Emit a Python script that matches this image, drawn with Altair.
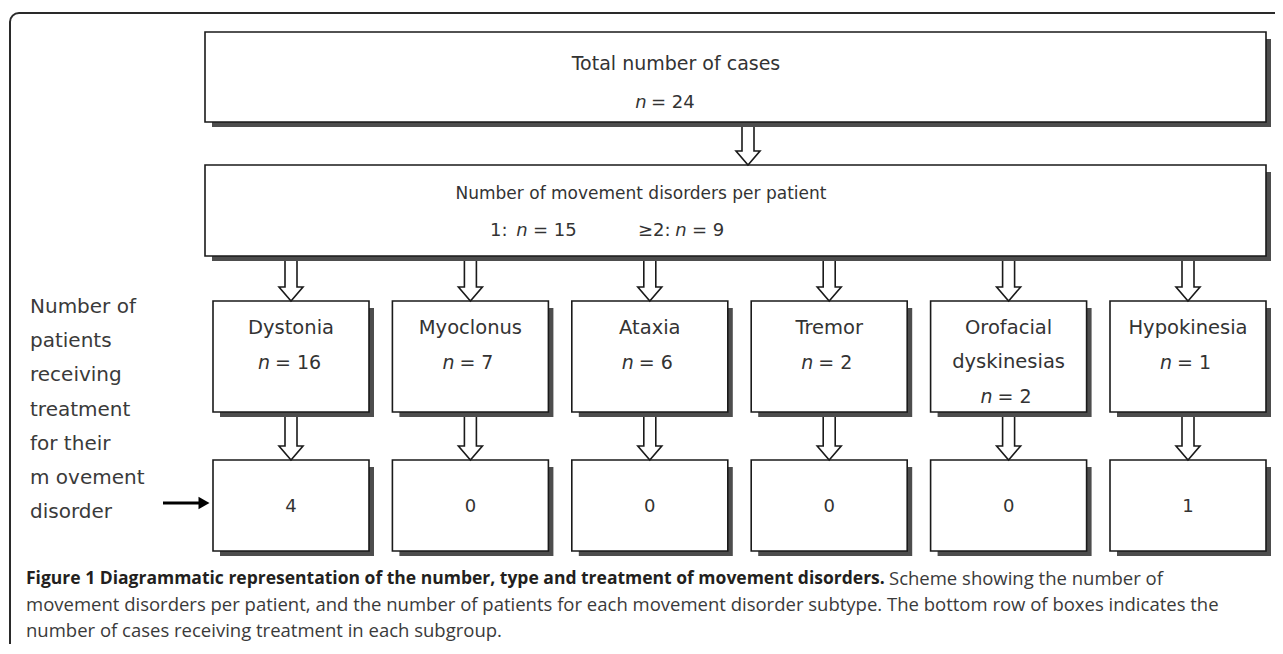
import altair as alt
import pandas as pd

# ---------------- data ----------------
total_cases = 24
split_labels = ["1:", "≥2:"]
split_counts = [15, 9]
disorder_names = [["Dystonia"], ["Myoclonus"], ["Ataxia"], ["Tremor"],
                  ["Orofacial", "dyskinesias"], ["Hypokinesia"]]
disorder_counts = [16, 7, 6, 2, 2, 1]
treated_counts = [4, 0, 0, 0, 0, 1]
top_title = "Total number of cases"
mid_title = "Number of movement disorders per patient"
side_lines = ["Number of", "patients", "receiving", "treatment", "for their",
              "m ovement", "disorder"]
caption_bold = ("Figure 1 Diagrammatic representation of the number, type and "
                "treatment of movement disorders.")
caption_rest = [
    "Scheme showing the number of",
    "movement disorders per patient, and the number of patients for each movement "
    "disorder subtype. The bottom row of boxes indicates the",
    "number of cases receiving treatment in each subgroup.",
]

# ---------------- layout (pixel coordinates of the figure) ----------------
W, H = 1267, 636
X0, Y0 = 8, 8
XS = alt.Scale(domain=[X0, X0 + W], nice=False, zero=False)
YS = alt.Scale(domain=[Y0, Y0 + H], nice=False, zero=False, reverse=True)

BOX_L, BOX_R = 205, 1266
TOP_Y = (32, 122)
MID_Y = (165, 256)
CAT_Y = (301, 412)
BOT_Y = (460, 551)
COL0, COL_STEP, COL_W = 213, 179.4, 156
SH = 5

col_left = [COL0 + i * COL_STEP for i in range(len(disorder_counts))]
col_cx = [l + COL_W / 2 for l in col_left]

boxes = [(BOX_L, TOP_Y[0], BOX_R, TOP_Y[1]), (BOX_L, MID_Y[0], BOX_R, MID_Y[1])]
for l in col_left:
    boxes.append((l, CAT_Y[0], l + COL_W, CAT_Y[1]))
    boxes.append((l, BOT_Y[0], l + COL_W, BOT_Y[1]))
box_df = pd.DataFrame(boxes, columns=["x", "y", "x2", "y2"])
shadow_df = pd.DataFrame([(a + 7, b + 7, c + SH, d + SH) for a, b, c, d in boxes],
                         columns=["x", "y", "x2", "y2"])

# hollow double-line arrows
arrows = [(748, TOP_Y[1] + SH, MID_Y[0])]
for cx in col_cx:
    arrows.append((cx, MID_Y[1] + SH, CAT_Y[0]))
    arrows.append((cx, CAT_Y[1] + SH, BOT_Y[0]))
arrow_rows = []
for k, (cx, ys, ye) in enumerate(arrows):
    hb = ye - 14
    pts = [(cx - 6, ys), (cx - 6, hb), (cx - 12, hb), (cx, ye),
           (cx + 12, hb), (cx + 6, hb), (cx + 6, ys)]
    for j, (px, py) in enumerate(pts):
        arrow_rows.append({"id": k, "o": j, "x": px, "y": py})
arrow_df = pd.DataFrame(arrow_rows)

# texts: (x, y, text, size, align)
reg, ital = [], []
reg.append({"x": 676, "y": 64, "t": top_title, "s": 19, "a": "center"})
ital.append({"x": 641, "y": 103, "t": "n", "s": 18})
reg.append({"x": 651, "y": 103, "t": f"= {total_cases}", "s": 18, "a": "left"})
reg.append({"x": 641, "y": 194, "t": mid_title, "s": 17, "a": "center"})
split_pos = [(490, 522, 533), (638, 681, 692)]
for (lx, nx, ex), lab, c in zip(split_pos, split_labels, split_counts):
    reg.append({"x": lx, "y": 231, "t": lab, "s": 18, "a": "left"})
    ital.append({"x": nx, "y": 231, "t": "n", "s": 18})
    reg.append({"x": ex, "y": 231, "t": f"= {c}", "s": 18, "a": "left"})

for cx, names, c, tcount in zip(col_cx, disorder_names, disorder_counts, treated_counts):
    for j, nm in enumerate(names):
        reg.append({"x": cx, "y": 328 + 34 * j, "t": nm, "s": 19.5, "a": "center"})
    ny = 329 + 34 * len(names)
    off = 5 if c >= 10 else 0
    ital.append({"x": cx - 22 - off, "y": ny, "t": "n", "s": 19})
    reg.append({"x": cx - 11 - off, "y": ny, "t": f"= {c}", "s": 19, "a": "left"})
    reg.append({"x": cx, "y": 507, "t": str(tcount), "s": 18, "a": "center"})

reg_df = pd.DataFrame(reg)
ital_df = pd.DataFrame(ital)
side_df = pd.DataFrame({"t": side_lines,
                        "x": [30] * len(side_lines),
                        "y": [307 + 34.2 * i for i in range(len(side_lines))]})
cap_bold_df = pd.DataFrame({"t": [caption_bold], "x": [26], "y": [579]})
cap_rest_df = pd.DataFrame({"t": caption_rest, "x": [889, 26, 26], "y": [579, 605, 631]})

TXT = "#333333"
FONT = "DejaVu Sans"


def X(f="x"):
    return alt.X(f"{f}:Q", scale=XS, axis=None)


def Y(f="y"):
    return alt.Y(f"{f}:Q", scale=YS, axis=None)


frame = alt.Chart(pd.DataFrame({"x": [10], "y": [13], "x2": [1320], "y2": [720]})).mark_rect(
    fillOpacity=0, stroke="#2a2a2a", strokeWidth=2, cornerRadius=9, clip=True
).encode(x=X(), y=Y(), x2="x2:Q", y2="y2:Q")

shadow = alt.Chart(shadow_df).mark_rect(color="#4d4d4d").encode(
    x=X(), y=Y(), x2="x2:Q", y2="y2:Q")
box = alt.Chart(box_df).mark_rect(fill="white", stroke="#1a1a1a", strokeWidth=1.6).encode(
    x=X(), y=Y(), x2="x2:Q", y2="y2:Q")

arrow = alt.Chart(arrow_df).mark_line(color="#1a1a1a", strokeWidth=1.6).encode(
    x=X(), y=Y(), detail="id:N", order="o:Q")

black_arrow = alt.Chart(pd.DataFrame({"x": [163], "x2": [200], "y": [503]})).mark_rule(
    color="black", strokeWidth=3).encode(x=X(), x2="x2:Q", y=Y())
black_head = alt.Chart(pd.DataFrame({"x": [204], "y": [503]})).mark_point(
    shape="triangle-right", filled=True, color="black", size=160, opacity=1).encode(x=X(), y=Y())

reg_center = alt.Chart(reg_df[reg_df["a"] == "center"]).mark_text(
    font=FONT, color=TXT, align="center", baseline="middle").encode(
    x=X(), y=Y(), text="t:N", size=alt.Size("s:Q", scale=None))
reg_left = alt.Chart(reg_df[reg_df["a"] == "left"]).mark_text(
    font=FONT, color=TXT, align="left", baseline="middle").encode(
    x=X(), y=Y(), text="t:N", size=alt.Size("s:Q", scale=None))
ital_t = alt.Chart(ital_df).mark_text(
    font=FONT, fontStyle="italic", color=TXT, align="center",
    baseline="middle").encode(x=X(), y=Y(), text="t:N", size=alt.Size("s:Q", scale=None))
side_t = alt.Chart(side_df).mark_text(
    font=FONT, fontSize=20, color="#3a3a3a", align="left", baseline="middle").encode(
    x=X(), y=Y(), text="t:N")
cap_b = alt.Chart(cap_bold_df).mark_text(
    font="Open Sans", fontSize=17.5, fontWeight="bold", color="#231f20", align="left",
    baseline="middle").encode(x=X(), y=Y(), text="t:N")
cap_r = alt.Chart(cap_rest_df).mark_text(
    font="Open Sans", fontSize=18.5, color="#3a3a3a", align="left",
    baseline="middle").encode(x=X(), y=Y(), text="t:N")

chart = alt.layer(frame, shadow, box, arrow, black_arrow, black_head,
                  reg_center, reg_left, ital_t, side_t, cap_b, cap_r).properties(
    width=W, height=H, padding=0, autosize=alt.AutoSizeParams(type="none")
).configure_view(strokeWidth=0)

chart.save("out.html", embed_options={"renderer": "svg", "actions": False})
